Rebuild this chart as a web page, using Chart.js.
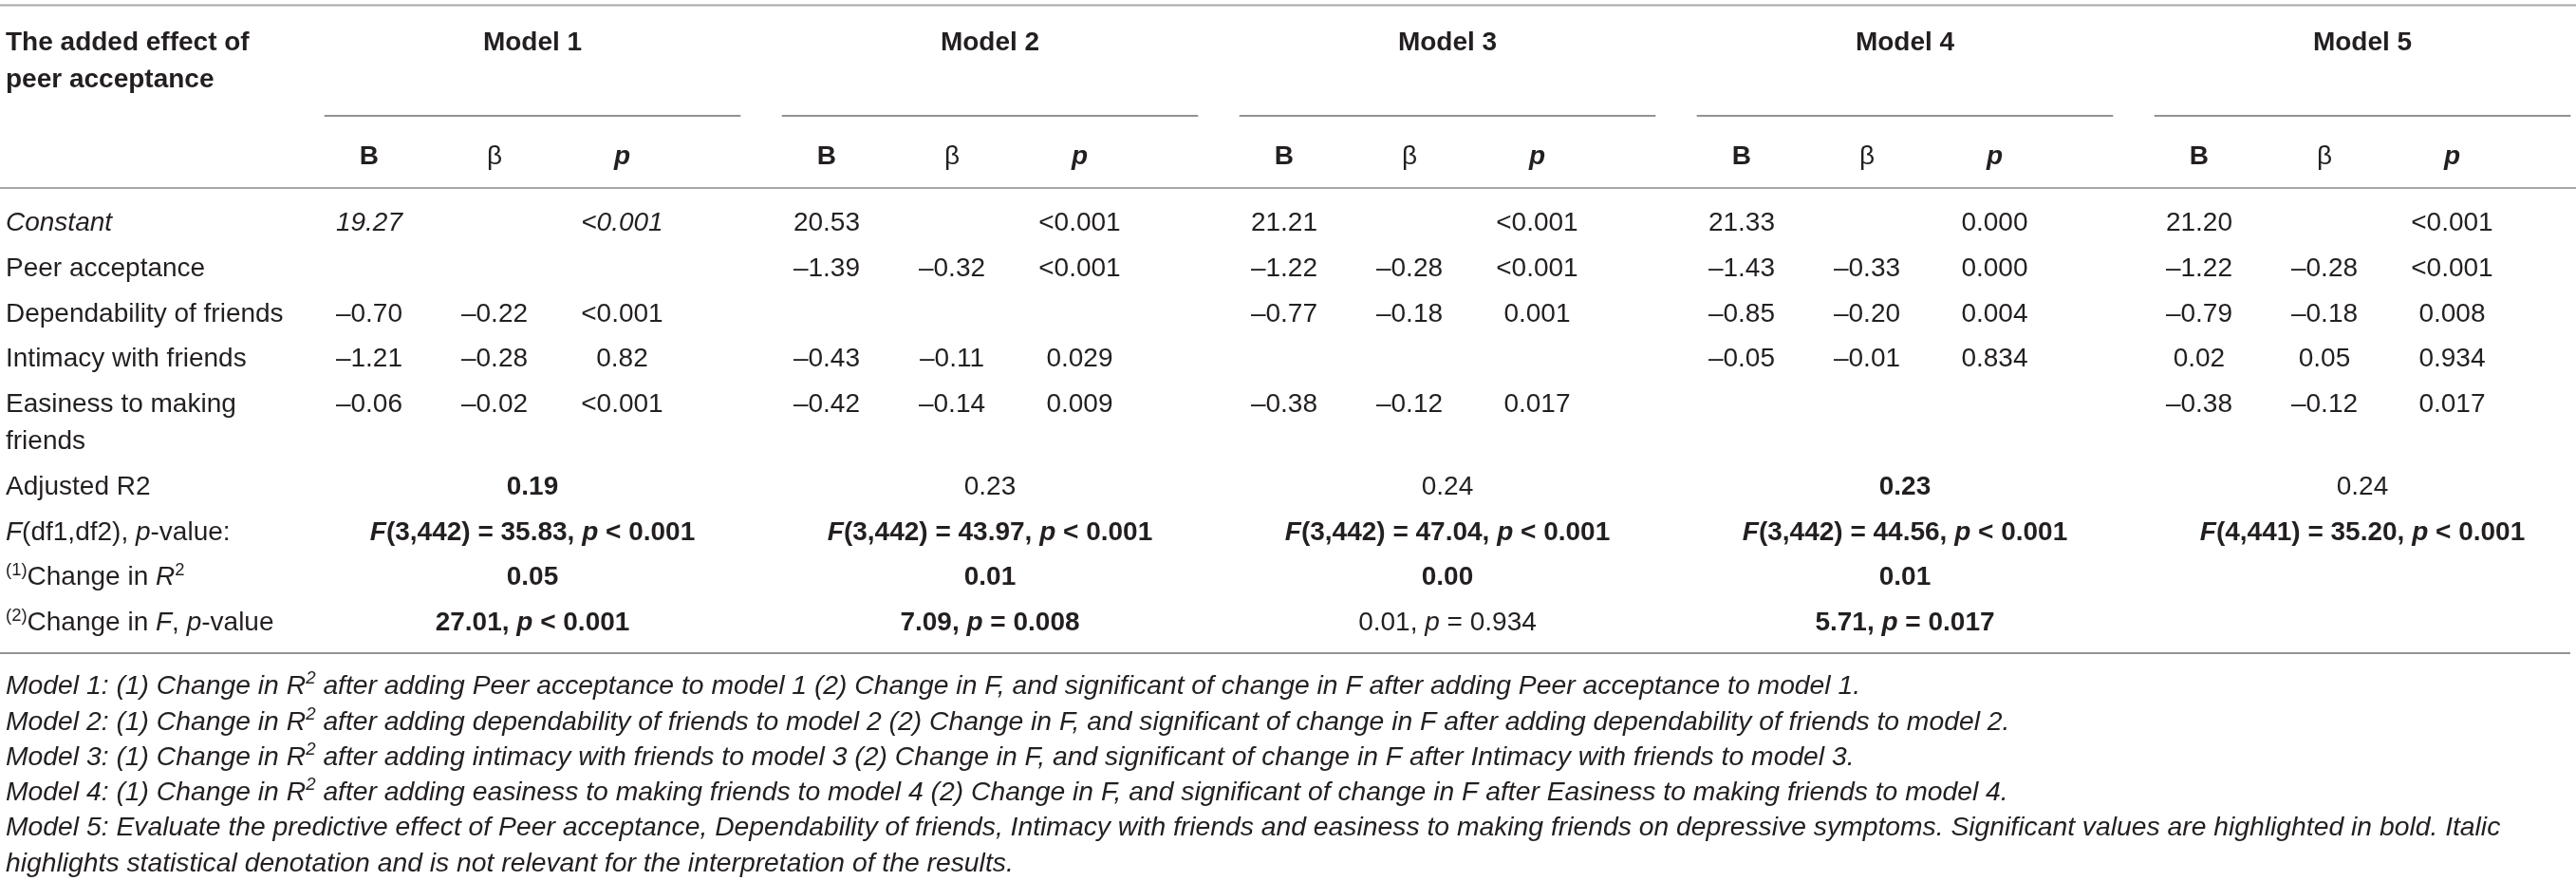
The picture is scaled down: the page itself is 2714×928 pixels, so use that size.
<!DOCTYPE html>
<html>
<head>
<meta charset="utf-8">
<title>The added effect of peer acceptance</title>
<script src="https://cdn.jsdelivr.net/npm/chart.js@4.4.1/dist/chart.umd.min.js"></script>
<style>
  html, body { margin: 0; padding: 0; background: #fff; }
  #wrap { width: 2714px; height: 928px; position: relative; }
</style>
</head>
<body>
<div id="wrap"><canvas id="tableChart"></canvas></div>
<script>
// ---- table content ----
// markup inside strings: _x_ = italic (statistical notation), ^x^ = superscript
const cornerTitle = 'The added effect of peer acceptance';
const models = ['Model 1', 'Model 2', 'Model 3', 'Model 4', 'Model 5'];
const statHeads = ['B', 'β', '_p_'];
const predictors = ['_Constant_', 'Peer acceptance', 'Dependability of friends', 'Intimacy with friends', 'Easiness to making friends'];

// one array per model, one entry per predictor (null = not in model)
const coefB = [
  [19.27, null, -0.70, -1.21, -0.06],
  [20.53, -1.39, null, -0.43, -0.42],
  [21.21, -1.22, -0.77, null, -0.38],
  [21.33, -1.43, -0.85, -0.05, null],
  [21.20, -1.22, -0.79, 0.02, -0.38]
];
const coefBeta = [
  [null, null, -0.22, -0.28, -0.02],
  [null, -0.32, null, -0.11, -0.14],
  [null, -0.28, -0.18, null, -0.12],
  [null, -0.33, -0.20, -0.01, null],
  [null, -0.28, -0.18, 0.05, -0.12]
];
const pValue = [
  ['<0.001', null, '<0.001', '0.82', '<0.001'],
  ['<0.001', '<0.001', null, '0.029', '0.009'],
  ['<0.001', '<0.001', '0.001', null, '0.017'],
  ['0.000', '0.000', '0.004', '0.834', null],
  ['<0.001', '<0.001', '0.008', '0.934', '0.017']
];

const summaryLabels = ['Adjusted R2', '_F_(df1,df2), _p_-value:', '^(1)^Change in _R_^2^', '^(2)^Change in _F_, _p_-value'];
const adjustedR2 = [0.19, 0.23, 0.24, 0.23, 0.24];
const fDf1 = [3, 3, 3, 3, 4];
const fDf2 = [442, 442, 442, 442, 441];
const fValue = [35.83, 43.97, 47.04, 44.56, 35.20];
const fP = ['< 0.001', '< 0.001', '< 0.001', '< 0.001', '< 0.001'];
const changeR2 = [0.05, 0.01, 0.00, 0.01, null];
const changeF = [27.01, 7.09, 0.01, 5.71, null];
const changeFP = ['< 0.001', '= 0.008', '= 0.934', '= 0.017', null];

// significant values (shown in bold)
const sigAdjR2 = [true, false, false, true, false];
const sigF = [true, true, true, true, true];
const sigChangeR2 = [true, true, true, true, false];
const sigChangeF = [true, true, false, true, false];

const notes = [
  'Model 1: (1) Change in R^2^ after adding Peer acceptance to model 1 (2) Change in F, and significant of change in F after adding Peer acceptance to model 1.',
  'Model 2: (1) Change in R^2^ after adding dependability of friends to model 2 (2) Change in F, and significant of change in F after adding dependability of friends to model 2.',
  'Model 3: (1) Change in R^2^ after adding intimacy with friends to model 3 (2) Change in F, and significant of change in F after Intimacy with friends to model 3.',
  'Model 4: (1) Change in R^2^ after adding easiness to making friends to model 4 (2) Change in F, and significant of change in F after Easiness to making friends to model 4.',
  'Model 5: Evaluate the predictive effect of Peer acceptance, Dependability of friends, Intimacy with friends and easiness to making friends on depressive symptoms. Significant values are highlighted in bold. Italic highlights statistical denotation and is not relevant for the interpretation of the results.'
];

// ---- layout ----
const W = 2714, H = 928;
const modelPitch = 482;      // px between model centres
const model1Center = 561;    // px
const rowPitch = 47.8;       // px per table row
const firstRow = 233;        // px of the first body row
const subCol = [-0.357, -0.083, 0.196];  // B, beta, p offsets from model centre (model units)
const ruleHalf = 0.455;
const wrapStep = 0.81;       // wrapped line step in row units
const labelWrap = 312;       // px
const fontSize = 28;
const noteSize = 28.3;
const textColor = '#231f20';
const fontFamily = '"Liberation Sans", Arial, Helvetica, sans-serif';

const xMin = 1 - model1Center / modelPitch;
const xMax = xMin + W / modelPitch;
const yMin = -firstRow / rowPitch;
const yMax = yMin + H / rowPitch;

function fmt(v) {
  if (v === null) return null;
  return v.toFixed(2).replace('-', '–');
}

function parseRich(s) {
  const runs = [];
  let it = false, sup = false, cur = '';
  for (const ch of s) {
    if (ch === '_' || ch === '^') {
      if (cur) runs.push({ t: cur, it, sup });
      cur = '';
      if (ch === '_') it = !it; else sup = !sup;
    } else cur += ch;
  }
  if (cur) runs.push({ t: cur, it, sup });
  return runs;
}

function fontFor(run, o) {
  const sz = run.sup ? o.size * 0.66 : o.size;
  return (run.it || o.italic ? 'italic ' : '') + (o.bold ? 'bold ' : '') + sz + 'px ' + fontFamily;
}

function richWidth(ctx, runs, o) {
  let w = 0;
  runs.forEach(r => { ctx.font = fontFor(r, o); w += ctx.measureText(r.t).width; });
  return w;
}

function drawRich(ctx, s, x, yMid, o) {
  const runs = parseRich(s);
  let px = x;
  if (o.align === 'center') px = x - richWidth(ctx, runs, o) / 2;
  const base = yMid + o.size * 0.36;
  ctx.fillStyle = textColor;
  ctx.textBaseline = 'alphabetic';
  ctx.textAlign = 'left';
  runs.forEach(r => {
    ctx.font = fontFor(r, o);
    ctx.fillText(r.t, px, r.sup ? base - o.size * 0.38 : base);
    px += ctx.measureText(r.t).width;
  });
}

function wrapWords(ctx, s, maxW, o) {
  const words = s.split(' ');
  const lines = [];
  let line = '';
  words.forEach(wd => {
    const test = line ? line + ' ' + wd : wd;
    if (line && richWidth(ctx, parseRich(test), o) > maxW) { lines.push(line); line = wd; }
    else line = test;
  });
  if (line) lines.push(line);
  return lines;
}

function hRule(ctx, x0, x1, y, width, color) {
  ctx.save();
  ctx.strokeStyle = color;
  ctx.lineWidth = width;
  ctx.beginPath();
  ctx.moveTo(x0, y);
  ctx.lineTo(x1, y);
  ctx.stroke();
  ctx.restore();
}

const tablePlugin = {
  id: 'tableCells',
  afterDraw(chart) {
    const ctx = chart.ctx;
    const X = v => chart.scales.x.getPixelForValue(v);
    const Y = v => chart.scales.y.getPixelForValue(v);
    const area = chart.chartArea;
    const labelX = X(xMin) + 6;
    const plain = { size: fontSize, align: 'left' };

    // header block
    hRule(ctx, area.left, area.right, Y(-4.76), 2, '#a8a8a8');
    wrapWords(ctx, cornerTitle, labelWrap, { size: fontSize, bold: true }).forEach((ln, k) => {
      drawRich(ctx, ln, labelX, Y(-3.97 + k * wrapStep), { size: fontSize, bold: true, align: 'left' });
    });
    models.forEach((m, i) => {
      const c = i + 1;
      drawRich(ctx, m, X(c), Y(-3.97), { size: fontSize, bold: true, align: 'center' });
      hRule(ctx, X(c - ruleHalf), X(c + ruleHalf), Y(-2.32), 1.5, '#6e6e6e');
      statHeads.forEach((h, j) => {
        drawRich(ctx, h, X(c + subCol[j]), Y(-1.46), { size: fontSize, bold: j !== 1, align: 'center' });
      });
    });
    hRule(ctx, area.left, area.right, Y(-0.73), 2, '#a8a8a8');

    // coefficient rows
    let row = 0;
    predictors.forEach((name, r) => {
      const lines = wrapWords(ctx, name, labelWrap, plain);
      lines.forEach((ln, k) => {
        drawRich(ctx, ln, labelX, Y(row + k * wrapStep), plain);
      });
      models.forEach((m, i) => {
        const c = i + 1;
        const it = r === 0 && i === 0;   // Model 1 constant is set in italics
        const cells = [fmt(coefB[i][r]), fmt(coefBeta[i][r]), pValue[i][r]];
        cells.forEach((v, j) => {
          if (v === null) return;
          drawRich(ctx, v, X(c + subCol[j]), Y(row), { size: fontSize, italic: it, align: 'center' });
        });
      });
      row += 1 + (lines.length - 1) * wrapStep;
    });

    // model summary rows
    const summaryCells = [
      i => [fmt(adjustedR2[i]), sigAdjR2[i]],
      i => ['_F_(' + fDf1[i] + ',' + fDf2[i] + ') = ' + fValue[i].toFixed(2) + ', _p_ ' + fP[i], sigF[i]],
      i => [fmt(changeR2[i]), sigChangeR2[i]],
      i => [changeF[i] === null ? null : changeF[i].toFixed(2) + ', _p_ ' + changeFP[i], sigChangeF[i]]
    ];
    summaryLabels.forEach((lab, s) => {
      drawRich(ctx, lab, labelX, Y(row), plain);
      models.forEach((m, i) => {
        const [txt, bold] = summaryCells[s](i);
        if (txt === null) return;
        drawRich(ctx, txt, X(i + 1), Y(row), { size: fontSize, bold, align: 'center' });
      });
      if (s < summaryLabels.length - 1) row += 1;
    });
    hRule(ctx, area.left, area.right - 6, Y(row + 0.71), 1.5, '#707070');

    // notes
    const noteOpt = { size: noteSize, italic: true, align: 'left' };
    let ny = row + 1.4;
    notes.forEach(n => {
      wrapWords(ctx, n, area.right - labelX - 4, noteOpt).forEach(ln => {
        drawRich(ctx, ln, labelX, Y(ny), noteOpt);
        ny += 0.78;
      });
    });
  }
};

const ctx = document.getElementById('tableChart').getContext('2d');
const tableChart = new Chart(ctx, {
  type: 'scatter',
  data: { datasets: [] },
  options: {
    responsive: true,
    maintainAspectRatio: false,
    animation: false,
    events: [],
    layout: { padding: 0 },
    scales: {
      x: { type: 'linear', display: false, min: xMin, max: xMax },
      y: { type: 'linear', display: false, reverse: true, min: yMin, max: yMax }
    },
    plugins: {
      legend: { display: false },
      tooltip: { enabled: false }
    }
  },
  plugins: [tablePlugin]
});
</script>
</body>
</html>
